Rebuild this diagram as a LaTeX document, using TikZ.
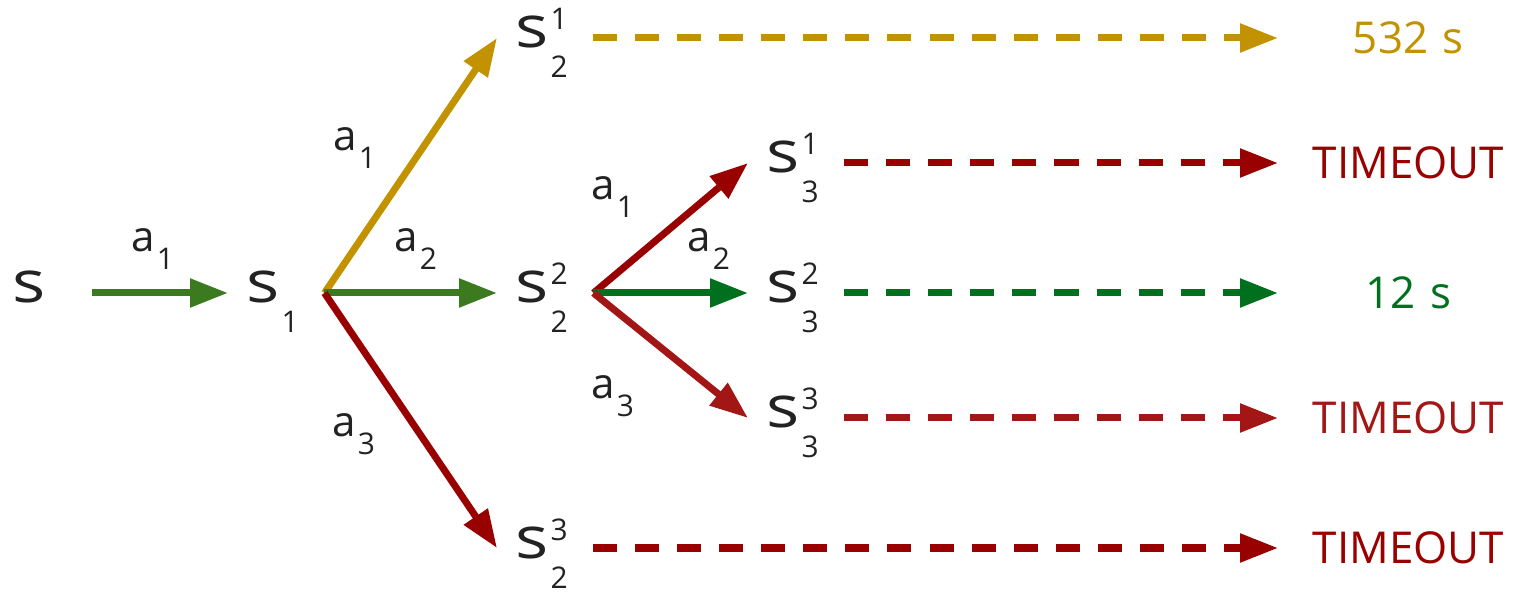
\documentclass[tikz,border=0pt]{standalone}
\usepackage{fontspec}
\setmainfont{Open Sans}
\usepackage{tikz}
\usetikzlibrary{arrows.meta}
\definecolor{ink}{HTML}{222222}
\definecolor{gold}{HTML}{C29200}
\definecolor{olive}{HTML}{3B7A1E}
\definecolor{okgreen}{HTML}{00701E}
\definecolor{dred}{HTML}{990000}
\definecolor{lred}{HTML}{A31616}
\newcommand{\statefont}{\fontsize{33}{40}\selectfont}
\newcommand{\actfont}{\fontsize{24}{29}\selectfont}
\newcommand{\scriptsz}{\fontsize{17}{20}\selectfont}
\newcommand{\resfont}{\fontsize{25}{30}\selectfont}
\newcommand{\sglyph}{\scalebox{1.2}[1]{s}}
\newcommand{\sstate}[2]{\sglyph\hspace{0.4mm}\rlap{\raisebox{3.6mm}{\scriptsz #2}}\raisebox{-6mm}{\scriptsz #1}\kern1.5mm}
\newcommand{\act}[1]{a\hspace{0.4mm}\raisebox{-3.6mm}{\scriptsz #1}}

\begin{document}
\begin{tikzpicture}[
  x=0.2mm,y=-0.2mm,
  state/.style={anchor=west,inner xsep=3.6mm,inner ysep=0pt,text height=6mm,
                text depth=2mm,font=\statefont,text=ink},
  act/.style={anchor=base west,inner sep=0pt,font=\actfont,text=ink},
  result/.style={anchor=west,inner sep=0pt,text width=5.2cm,align=center,font=\resfont},
  arr/.style={-{Triangle[length=7.6mm,width=5.5mm]},line width=1.4mm},
  darr/.style={arr,dash pattern=on 4.8mm off 3.6mm}
]
\useasboundingbox (0,0) rectangle (1513,593);
\node[state] (s) at (-6,293) {\sglyph};
\node[state] (s1) at (228,293) {\sstate{1}{}};
\node[state] (s21) at (497,38) {\sstate{2}{1}};
\node[state] (s22) at (497,293) {\sstate{2}{2}};
\node[state] (s23) at (497,548) {\sstate{2}{3}};
\node[state] (s31) at (748,163) {\sstate{3}{1}};
\node[state] (s32) at (748,293) {\sstate{3}{2}};
\node[state] (s33) at (748,418) {\sstate{3}{3}};
\node[result,text=gold] (r21) at (1278,38) {532 s};
\node[result,text=dred] (r31) at (1278,163) {TIMEOUT};
\node[result,text=okgreen] (r32) at (1278,293) {12 s};
\node[result,text=lred] (r33) at (1278,418) {TIMEOUT};
\node[result,text=dred] (r23) at (1278,548) {TIMEOUT};
\node[act] (a0) at (131,252) {\act{1}};
\node[act] (a11) at (333,151) {\act{1}};
\node[act] (a12) at (394,252) {\act{2}};
\node[act] (a13) at (332,437) {\act{3}};
\node[act] (a21) at (591,200) {\act{1}};
\node[act] (a22) at (687,252) {\act{2}};
\node[act] (a23) at (591,399) {\act{3}};
\draw[arr,olive,shorten <=5.6mm] (s) -- (s1);
\draw[arr,gold] (s1.east) -- (s21.west);
\draw[arr,olive] (s1.east) -- (s22.west);
\draw[arr,dred] (s1.east) -- (s23.west);
\draw[arr,dred] (s22.east) -- (s31.west);
\draw[arr,okgreen] (s22.east) -- (s32.west);
\draw[arr,lred] (s22.east) -- (s33.west);
\draw[darr,gold] (s21.east) -- (r21.west);
\draw[darr,dred] (s31.east) -- (r31.west);
\draw[darr,okgreen] (s32.east) -- (r32.west);
\draw[darr,lred] (s33.east) -- (r33.west);
\draw[darr,dred] (s23.east) -- (r23.west);
\end{tikzpicture}
\end{document}
